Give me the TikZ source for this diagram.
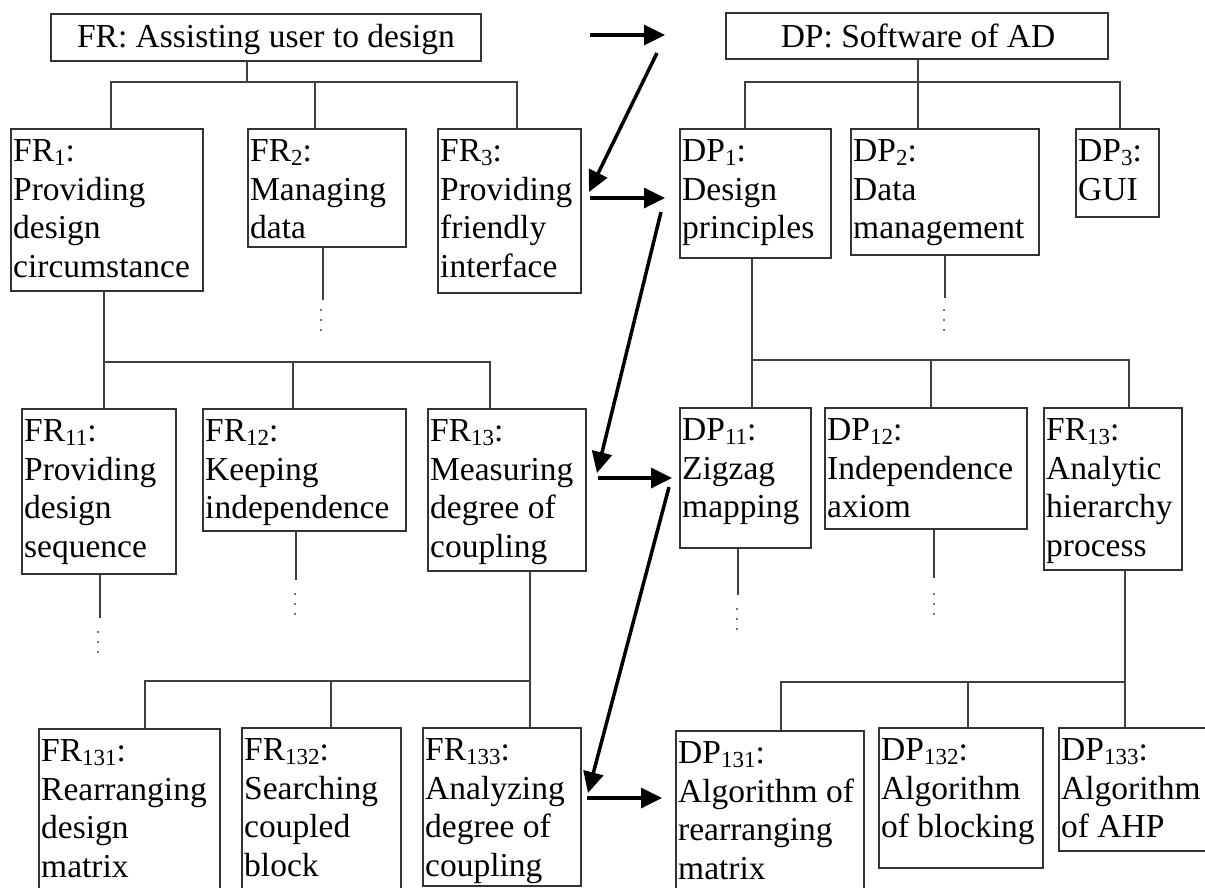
\documentclass[tikz,border=0pt]{standalone}
\usepackage{fontspec}
\setmainfont{Liberation Serif}
\usetikzlibrary{arrows.meta}
\newcommand{\sbs}[1]{\raisebox{-4pt}{\fontsize{23}{23}\selectfont #1}}
\newcommand{\treebox}[6]{%
  \node[box, minimum width=#4pt, minimum height=#5pt, anchor=north west] (#1) at (#2,#3) {};
  \node[lbl, anchor=north west] (#1-t) at ([shift={(3,11.8)}]#1.north west) {#6};
}
\tikzset{
  box/.style={draw=black!80, line width=2pt, fill=white, inner sep=0pt},
  lbl/.style={inner sep=0pt, align=left, font=\fontsize{33.5}{38.5}\selectfont},
  ttl/.style={inner sep=0pt, font=\fontsize{33.5}{38.5}\selectfont, anchor=base},
  conn/.style={draw=black!75, line width=2pt},
  flow/.style={draw=black, line width=3.5pt, -{Triangle[length=21pt,width=20pt]}},
  vdots/.style={draw=black!55, line width=2.6pt, dash pattern=on 2.4pt off 7.6pt}
}
\begin{document}
\begin{tikzpicture}[x=1pt,y=-1pt]
\useasboundingbox (0,0) rectangle (1205,887);
\fill[white] (0,0) rectangle (1205,887);
\clip (0,0) rectangle (1205,887);

% top boxes
\node[box, minimum width=430pt, minimum height=47pt, anchor=north west] (fr) at (50,13) {};
\node[ttl] (fr-t) at (266,47) {FR: Assisting user to design};
\node[box, minimum width=382pt, minimum height=46pt, anchor=north west] (dp) at (725,12) {};
\node[ttl] (dp-t) at (918,47) {DP: Software of AD};

% level 1
\treebox{fr1}{10}{128}{192}{162}{FR\sbs{1}:\\Providing\\design\\circumstance}
\treebox{fr2}{247}{128}{158}{118}{FR\sbs{2}:\\Managing\\data}
\treebox{fr3}{437}{128}{143}{164}{FR\sbs{3}:\\Providing\\friendly\\interface}
\treebox{dp1}{679}{128}{151}{129}{DP\sbs{1}:\\Design\\principles}
\treebox{dp2}{850}{128}{188}{126}{DP\sbs{2}:\\Data\\management}
\treebox{dp3}{1075}{128}{83}{88}{DP\sbs{3}:\\GUI}

% level 2
\treebox{fr11}{21}{408}{154}{165}{FR\sbs{11}:\\Providing\\design\\sequence}
\treebox{fr12}{202}{408}{203}{122}{FR\sbs{12}:\\Keeping\\independence}
\treebox{fr13}{427}{408}{158}{162}{FR\sbs{13}:\\Measuring\\degree of\\coupling}
\treebox{dp11}{679}{407}{131}{140}{DP\sbs{11}:\\Zigzag\\mapping}
\treebox{dp12}{824}{407}{202}{121}{DP\sbs{12}:\\Independence\\axiom}
\treebox{dp13}{1043}{407}{138}{162}{FR\sbs{13}:\\Analytic\\hierarchy\\process}

% level 3
\treebox{fr131}{38}{728}{181}{200}{FR\sbs{131}:\\Rearranging\\design\\matrix}
\treebox{fr132}{241}{727}{159}{200}{FR\sbs{132}:\\Searching\\coupled\\block}
\treebox{fr133}{422}{727}{158}{158}{FR\sbs{133}:\\Analyzing\\degree of\\coupling}
\treebox{dp131}{675}{730}{188}{200}{DP\sbs{131}:\\Algorithm of\\rearranging\\matrix}
\treebox{dp132}{878}{727}{164}{140}{DP\sbs{132}:\\Algorithm\\of blocking}
\treebox{dp133}{1058}{727}{200}{123}{DP\sbs{133}:\\Algorithm\\of AHP}

% tree connectors: FR level 1
\coordinate (s0) at (247,82);
\coordinate (b1l) at (111,82);
\coordinate (b1m) at (315,82);
\coordinate (b1r) at (517,82);
\draw[conn] (s0 |- fr.south) -- (s0);
\draw[conn] (b1l |- fr1.north) -- (b1l) -- (b1r) -- (b1r |- fr3.north);
\draw[conn] (b1m) -- (b1m |- fr2.north);
% DP level 1
\coordinate (d0) at (918,82);
\coordinate (d1l) at (745,82);
\coordinate (d1r) at (1120,82);
\draw[conn] (d0 |- dp.south) -- (d0 |- dp2.north);
\draw[conn] (d1l |- dp1.north) -- (d1l) -- (d1r) -- (d1r |- dp3.north);

% FR2 / DP2 continuation
\coordinate (c2) at (323,300);
\draw[conn] (c2 |- fr2.south) -- (c2);
\draw[vdots] (321,308.8) -- (321,332);
\coordinate (e2) at (945,298);
\draw[conn] (e2 |- dp2.south) -- (e2);
\draw[vdots] (944,308.8) -- (944,332);

% FR level 2
\coordinate (b2l) at (104,362);
\coordinate (b2m) at (293,362);
\coordinate (b2r) at (490,362);
\draw[conn] (b2l |- fr1.south) -- (b2l |- fr11.north);
\draw[conn] (b2l) -- (b2r) -- (b2r |- fr13.north);
\draw[conn] (b2m) -- (b2m |- fr12.north);
% DP level 2
\coordinate (e2l) at (752,360);
\coordinate (e2m) at (931,360);
\coordinate (e2r) at (1129,360);
\draw[conn] (e2l |- dp1.south) -- (e2l |- dp11.north);
\draw[conn] (e2l) -- (e2r) -- (e2r |- dp13.north);
\draw[conn] (e2m) -- (e2m |- dp12.north);

% level 2 continuations
\coordinate (c11) at (100,618);
\draw[conn] (c11 |- fr11.south) -- (c11);
\draw[vdots] (98,630.8) -- (98,654);
\coordinate (c12) at (296,580);
\draw[conn] (c12 |- fr12.south) -- (c12);
\draw[vdots] (295,592.8) -- (295,616);
\coordinate (e11) at (738,595);
\draw[conn] (e11 |- dp11.south) -- (e11);
\draw[vdots] (737,607.8) -- (737,633);
\coordinate (e12) at (934,578);
\draw[conn] (e12 |- dp12.south) -- (e12);
\draw[vdots] (934,592.8) -- (934,616);

% FR level 3
\coordinate (b3l) at (145,681);
\coordinate (b3m) at (331,681);
\coordinate (b3r) at (530,681);
\draw[conn] (b3r |- fr13.south) -- (b3r |- fr133.north);
\draw[conn] (b3r) -- (b3l) -- (b3l |- fr131.north);
\draw[conn] (b3m) -- (b3m |- fr132.north);
% DP level 3
\coordinate (e3l) at (781,682);
\coordinate (e3m) at (968,682);
\coordinate (e3r) at (1125,682);
\draw[conn] (e3r |- dp13.south) -- (e3r |- dp133.north);
\draw[conn] (e3r) -- (e3l) -- (e3l |- dp131.north);
\draw[conn] (e3m) -- (e3m |- dp132.north);

% zigzag arrows
\coordinate (a1s) at (590,35);   \coordinate (a1e) at (665,35);
\coordinate (z1s) at (657,53);   \coordinate (z1e) at (589,192);
\coordinate (a2s) at (590,198);  \coordinate (a2e) at (665,198);
\coordinate (z2s) at (661,212);  \coordinate (z2e) at (597,473);
\coordinate (a3s) at (598,478);  \coordinate (a3e) at (672,478);
\coordinate (z3s) at (669,487);  \coordinate (z3e) at (588,793);
\coordinate (a4s) at (587,798);  \coordinate (a4e) at (662,798);
\draw[flow] (a1s) -- (a1e);
\draw[flow] (z1s) -- (z1e);
\draw[flow] (a2s) -- (a2e);
\draw[flow] (z2s) -- (z2e);
\draw[flow] (a3s) -- (a3e);
\draw[flow] (z3s) -- (z3e);
\draw[flow] (a4s) -- (a4e);
\end{tikzpicture}
\end{document}
